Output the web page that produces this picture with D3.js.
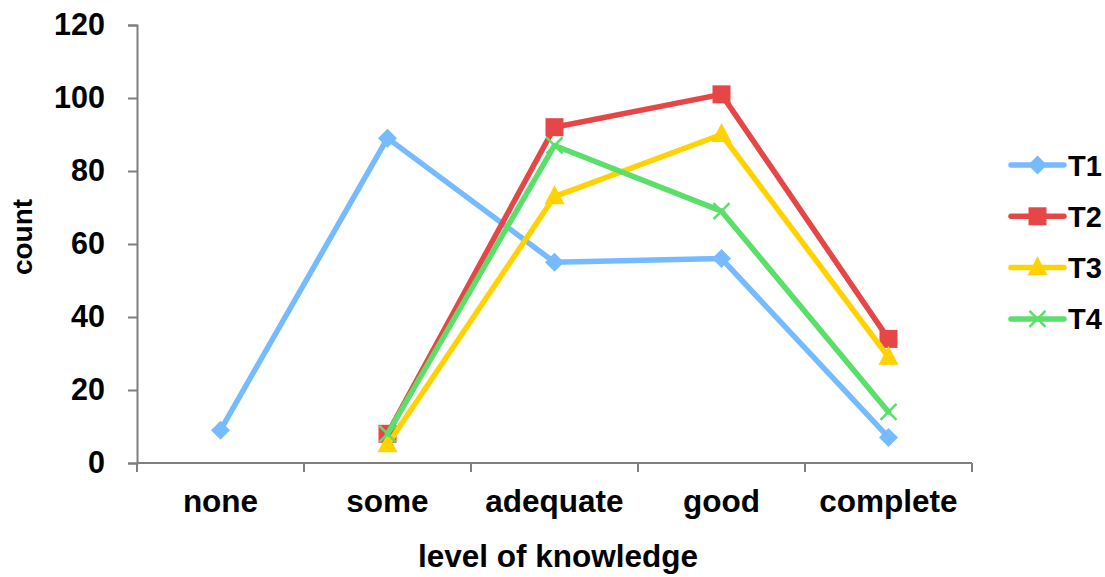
<!DOCTYPE html>
<html>
<head>
<meta charset="utf-8">
<script src="https://cdn.jsdelivr.net/npm/d3@7"></script>
<style>
  html, body { margin: 0; padding: 0; background: #fff; }
  svg { display: block; }
  text { font-family: "Liberation Sans", Arial, sans-serif; font-weight: bold; fill: #000; }
</style>
</head>
<body>
<svg id="chart" width="1105" height="577"></svg>
<script>
// Knowledge levels on the x axis
const categories = ["none", "some", "adequate", "good", "complete"];
// Counts per level for each time point (null = not recorded)
const t1 = [9, 89, 55, 56, 7];
const t2 = [null, 8, 92, 101, 34];
const t3 = [null, 5, 73, 90, 29];
const t4 = [null, 8, 87, 69, 14];
const seriesNames = ["T1", "T2", "T3", "T4"];
const yTicks = [0, 20, 40, 60, 80, 100, 120];

const colors = ["#76BBFF", "#E64646", "#FFD200", "#5ADF6A"];
const symbols = ["diamond", "square", "triangle", "cross"];
const seriesValues = [t1, t2, t3, t4];

const svg = d3.select("#chart");
const plot = { left: 137, right: 972, top: 25, bottom: 463 };

const x = d3.scaleBand().domain(categories).range([plot.left, plot.right]);
const y = d3.scaleLinear().domain([0, 120]).range([plot.bottom, plot.top]);

const axisColor = "#7f7f7f";

// Y axis
const yAxis = svg.append("g")
  .attr("transform", `translate(${plot.left},0)`)
  .call(d3.axisLeft(y).tickValues(yTicks).tickSize(9).tickPadding(23));
yAxis.select(".domain").attr("stroke", axisColor).attr("stroke-width", 2);
yAxis.selectAll(".tick line").attr("stroke", axisColor).attr("stroke-width", 2);
yAxis.selectAll(".tick text")
  .style("font-size", "30.5px").style("font-family", "'Liberation Sans', Arial, sans-serif")
  .style("font-weight", "bold").attr("fill", "#000");

// X axis: line plus boundary ticks between categories
const xg = svg.append("g");
xg.append("line")
  .attr("x1", plot.left).attr("x2", plot.right)
  .attr("y1", plot.bottom).attr("y2", plot.bottom)
  .attr("stroke", axisColor).attr("stroke-width", 2);
const bounds = categories.map(c => x(c)).concat([x(categories[categories.length - 1]) + x.bandwidth()]);
xg.selectAll("line.tk").data(bounds).enter().append("line")
  .attr("class", "tk")
  .attr("x1", d => d).attr("x2", d => d)
  .attr("y1", plot.bottom).attr("y2", plot.bottom + 9)
  .attr("stroke", axisColor).attr("stroke-width", 2);
xg.selectAll("text").data(categories).enter().append("text")
  .attr("x", d => x(d) + x.bandwidth() / 2)
  .attr("y", 512)
  .attr("text-anchor", "middle")
  .style("font-size", "31.5px")
  .text(d => d);

// Axis titles
svg.append("text")
  .attr("x", 558).attr("y", 567)
  .attr("text-anchor", "middle")
  .style("font-size", "31.5px")
  .text("level of knowledge");
svg.append("text")
  .attr("transform", "translate(32,237) rotate(-90)")
  .attr("text-anchor", "middle")
  .style("font-size", "28px")
  .text("count");

// Marker drawing helper
function drawMarker(g, type, color, cx, cy) {
  if (type === "diamond") {
    const r = 9.5;
    g.append("path").attr("d", `M${cx},${cy - r}L${cx + r},${cy}L${cx},${cy + r}L${cx - r},${cy}Z`).attr("fill", color);
  } else if (type === "square") {
    const s = 18;
    g.append("rect").attr("x", cx - s / 2).attr("y", cy - s / 2).attr("width", s).attr("height", s).attr("fill", color);
  } else if (type === "triangle") {
    const w = 20, h = 19;
    g.append("path").attr("d", `M${cx},${cy - h * 0.6}L${cx + w / 2},${cy + h * 0.4}L${cx - w / 2},${cy + h * 0.4}Z`).attr("fill", color);
  } else if (type === "cross") {
    const r = 8;
    g.append("path").attr("d", `M${cx - r},${cy - r}L${cx + r},${cy + r}M${cx - r},${cy + r}L${cx + r},${cy - r}`)
      .attr("stroke", color).attr("stroke-width", 2.5).attr("fill", "none");
  }
}

// Series lines and markers
const line = d3.line()
  .defined(d => d.v !== null)
  .x(d => x(d.c) + x.bandwidth() / 2)
  .y(d => y(d.v));

seriesValues.forEach((vals, i) => {
  const pts = categories.map((c, j) => ({ c, v: vals[j] }));
  const g = svg.append("g");
  g.append("path")
    .datum(pts)
    .attr("d", line)
    .attr("fill", "none")
    .attr("stroke", colors[i])
    .attr("stroke-width", 5.5)
    .attr("stroke-linejoin", "round")
    .attr("stroke-linecap", "round");
  pts.filter(p => p.v !== null).forEach(p => {
    drawMarker(g, symbols[i], colors[i], x(p.c) + x.bandwidth() / 2, y(p.v));
  });
});

// Legend
const legend = svg.append("g");
seriesNames.forEach((name, i) => {
  const ly = 165 + i * 51.3;
  const lg = legend.append("g");
  lg.append("line")
    .attr("x1", 1011).attr("x2", 1064)
    .attr("y1", ly).attr("y2", ly)
    .attr("stroke", colors[i]).attr("stroke-width", 5.5).attr("stroke-linecap", "round");
  drawMarker(lg, symbols[i], colors[i], 1037.5, ly);
  lg.append("text")
    .attr("x", 1068).attr("y", ly + 10.5)
    .style("font-size", "29px")
    .text(name);
});
</script>
</body>
</html>
